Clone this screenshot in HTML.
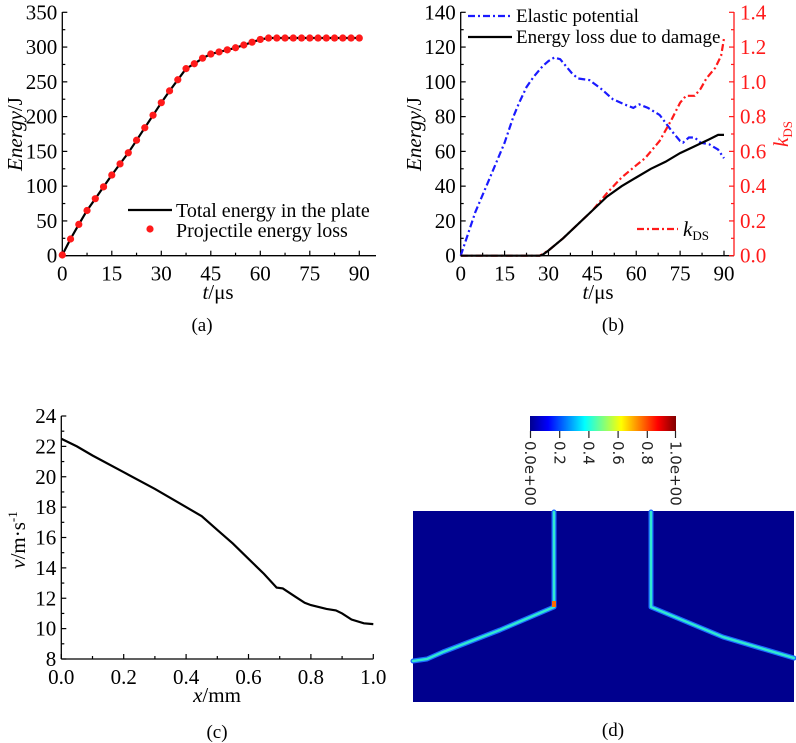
<!DOCTYPE html>
<html><head><meta charset="utf-8">
<style>
html,body{margin:0;padding:0;background:#fff;}
svg{display:block;font-family:"Liberation Serif",serif;}
</style></head>
<body>
<svg id="fig" width="796" height="743" viewBox="0 0 796 743" xmlns="http://www.w3.org/2000/svg">
<defs>
<linearGradient id="jet" x1="0" x2="1" y1="0" y2="0">
<stop offset="0" stop-color="#00008f"/><stop offset="0.125" stop-color="#0000ff"/><stop offset="0.375" stop-color="#00ffff"/><stop offset="0.5" stop-color="#7fff7f"/><stop offset="0.625" stop-color="#ffff00"/><stop offset="0.875" stop-color="#ff0000"/><stop offset="1" stop-color="#800000"/>
</linearGradient>
</defs>
<g id="pa"></g>
<g id="pb"></g>
<g id="pc"></g>
<g id="pd">
  <rect x="530" y="416" width="146" height="15" fill="url(#jet)"/>
  <g stroke="#222" stroke-width="1.2">
    <line x1="530.5" y1="431" x2="530.5" y2="438"/><line x1="559.7" y1="431" x2="559.7" y2="438"/><line x1="588.9" y1="431" x2="588.9" y2="438"/><line x1="618.1" y1="431" x2="618.1" y2="438"/><line x1="647.3" y1="431" x2="647.3" y2="438"/><line x1="675.5" y1="431" x2="675.5" y2="438"/>
  </g>
  <g font-family="DejaVu Sans, sans-serif" font-size="15" fill="#222">
    <text transform="translate(525,441) rotate(90)">0.0e+00</text>
    <text transform="translate(554.5,441) rotate(90)">0.2</text>
    <text transform="translate(583.7,441) rotate(90)">0.4</text>
    <text transform="translate(612.9,441) rotate(90)">0.6</text>
    <text transform="translate(642.1,441) rotate(90)">0.8</text>
    <text transform="translate(670.5,441) rotate(90)">1.0e+00</text>
  </g>
  <rect x="413" y="511" width="381" height="191" fill="#00008e"/>
  <g fill="none" stroke-linejoin="round" stroke-linecap="round">
    <path d="M554,512 L554,607 L500,630 L443,652 L427,659 L413,661 M651,512 L651,607 L723,637 L794,658" stroke="#1a6bff" stroke-width="5"/>
    <path d="M554,512 L554,607 L500,630 L443,652 L427,659 L413,661 M651,512 L651,607 L723,637 L794,658" stroke="#30e8d0" stroke-width="2.5"/>
    <rect x="552" y="601" width="4" height="6" fill="#ff6a00" stroke="none"/>
  </g>
  <text x="613" y="736" font-size="19" text-anchor="middle">(d)</text>
</g>
</svg>
<script>
// Panel (a) data
const aTime = [0,2.5,5,7.5,10,12.5,15,17.5,20,22.5,25,27.5,30,32.5,35,37.5,40,42.5,45,47.5,50,52.5,55,57.5,60,62.5,65,67.5,70,72.5,75,77.5,80,82.5,85,87.5,90];
const aEnergy = [1,24,45,65,82,99,116,132,148,166,184,202,220,237,253,269,276,284,290,293,296,299,303,307,311,313,313,313,313,313,313,313,313,313,313,313,313];
const aXTicks = ["0","15","30","45","60","75","90"];
const aYTicks = ["0","50","100","150","200","250","300","350"];
// Panel (b) data
const bElasticT = [0,5,10,15,18,20,22.5,25,28,30,32,34,36,38,40,44,48,52,56,59,61,64,68,72,75,76,78,80,82,85,88,90];
const bElasticE = [0,25,45,65,80,88,97,103,109,112,114,113,109,105,102,101,96,90,87,85,87,85,81,72,66,65,68,68,65,64,61,56];
const bDamageT = [0,27,28,30,35,40,45,50,55,60,65,70,75,80,85,88,90];
const bDamageE = [0,0,0.5,3,10,18,26,34,40,45,50,54,59,63,67,69.5,69.5];
const bKT = [0,27,28,30,35,40,45,50,55,60,63,68,72,75,77,80,82,84,87,89,90];
const bK = [0,0,0.01,0.03,0.1,0.18,0.26,0.36,0.45,0.52,0.56,0.66,0.78,0.88,0.92,0.92,0.96,1.02,1.08,1.15,1.25];
const bXTicks = ["0","15","30","45","60","75","90"];
const bYTicks = ["0","20","40","60","80","100","120","140"];
const bY2Ticks = ["0.0","0.2","0.4","0.6","0.8","1.0","1.2","1.4"];
// Panel (c) data
const cX = [0,0.05,0.1,0.2,0.3,0.4,0.45,0.5,0.55,0.6,0.65,0.69,0.71,0.75,0.78,0.8,0.85,0.88,0.9,0.93,0.97,1.0];
const cV = [22.5,22,21.4,20.3,19.2,18,17.4,16.5,15.6,14.6,13.6,12.7,12.65,12.1,11.7,11.55,11.3,11.2,11.0,10.6,10.35,10.3];
const cXTicks = ["0.0","0.2","0.4","0.6","0.8","1.0"];
const cYTicks = ["8","10","12","14","16","18","20","22","24"];

const NS="http://www.w3.org/2000/svg";
const FS=21;
const LFS=19;
function mk(parent,tag,attrs,txt){const e=document.createElementNS(NS,tag);for(const k in attrs)e.setAttribute(k,attrs[k]);if(txt!==undefined)e.textContent=txt;parent.appendChild(e);return e;}
function lin(d0,d1,r0,r1){return v=>r0+(v-d0)*(r1-r0)/(d1-d0);}
function pathOf(xs,ys,sx,sy){return xs.map((x,i)=>(i?'L':'M')+sx(x).toFixed(1)+','+sy(ys[i]).toFixed(1)).join(' ');}

function axes(g,o){
  const ax=mk(g,'g',{});
  
  
  mk(ax,'line',{x1:o.L,y1:o.B,x2:o.R,y2:o.B,stroke:'#000','stroke-width':1.3});
  mk(ax,'line',{x1:o.L,y1:o.B,x2:o.L,y2:o.T,stroke:'#000','stroke-width':1.3});
  const nx=o.xt.length-1;
  for(let i=0;i<=nx*2;i++){
    const v=o.xmin+(o.xmax-o.xmin)*i/(nx*2);const x=o.sx(v);
    mk(ax,'line',{x1:x,y1:o.B,x2:x,y2:o.B-(i%2?3:5),stroke:'#000','stroke-width':1.2});
  }
  o.xt.forEach((t,i)=>{const x=o.sx(o.xmin+(o.xmax-o.xmin)*i/nx);
    const e=mk(ax,'text',{x:x,y:o.B+25,'font-size':FS,'text-anchor':'middle'},t);
    
    });
  const ny=o.yt.length-1;
  for(let i=0;i<=ny*2;i++){
    const v=o.ymin+(o.ymax-o.ymin)*i/(ny*2);const y=o.sy(v);
    mk(ax,'line',{x1:o.L,y1:y,x2:o.L+(i%2?3:5),y2:y,stroke:'#000','stroke-width':1.2});
  }
  o.yt.forEach((t,i)=>{const y=o.sy(o.ymin+(o.ymax-o.ymin)*i/ny);
    const e=mk(ax,'text',{x:o.L-5,y:y+7,'font-size':FS,'text-anchor':'end'},t);
    
    });
}

// ---- Panel a
(function(){
  const g=document.getElementById('pa');
  const sx=lin(0,90,62.3,359.3), sy=lin(0,350,255.7,12.3);
  axes(g,{L:62.3,R:376,B:255.7,T:12,sx,sy,xt:aXTicks,yt:aYTicks,xmin:0,xmax:90,ymin:0,ymax:350});
  const ln=mk(g,'path',{d:pathOf(aTime,aEnergy,sx,sy),fill:'none',stroke:'#000','stroke-width':2.2});
  
  
  aTime.forEach((t,i)=>{const c=mk(g,'circle',{cx:sx(t),cy:sy(aEnergy[i]),r:3.6,fill:'#ff1a1a'});
    
    });
  const lg=mk(g,'g',{});
  
  
  mk(lg,'line',{x1:128,y1:210,x2:172,y2:210,stroke:'#000','stroke-width':2.2});
  mk(lg,'text',{x:176,y:217,'font-size':20},'Total energy in the plate');
  mk(lg,'circle',{cx:150,cy:229,r:3.6,fill:'#ff1a1a'});
  mk(lg,'text',{x:176,y:237,'font-size':20},'Projectile energy loss');
  const yt=mk(g,'text',{transform:'translate(22,134) rotate(-90)','font-size':FS,'text-anchor':'middle'});
  
  
  yt.innerHTML='<tspan font-style="italic">Energy</tspan>/J';
  const xt=mk(g,'text',{x:218,y:299,'font-size':FS,'text-anchor':'middle'});
  
  
  xt.innerHTML='<tspan font-style="italic">t</tspan>/μs';
  const cap=mk(g,'text',{x:202,y:331,'font-size':19,'text-anchor':'middle'},'(a)');
  
  
})();

// ---- Panel b
(function(){
  const g=document.getElementById('pb');
  const sx=lin(0,90,460.7,724), sy=lin(0,140,255.7,12.3), sy2=lin(0,1.4,255.7,12.3);
  axes(g,{L:460.7,R:734,B:255.7,T:12,sx,sy,xt:bXTicks,yt:bYTicks,xmin:0,xmax:90,ymin:0,ymax:140});
  const ra=mk(g,'g',{});
  
  
  mk(ra,'line',{x1:734,y1:255.7,x2:734,y2:12,stroke:'#ff1a1a','stroke-width':1.3});
  for(let i=0;i<=14;i++){const y=sy2(i*0.1);mk(ra,'line',{x1:734,y1:y,x2:734-(i%2?3:5),y2:y,stroke:'#ff1a1a','stroke-width':1.2});}
  bY2Ticks.forEach((t,i)=>{mk(ra,'text',{x:740,y:sy2(i*0.2)+7,'font-size':FS,fill:'#ff1a1a'},t);});
  const t2=mk(ra,'text',{transform:'translate(788,134) rotate(-90)','font-size':FS,fill:'#ff1a1a','text-anchor':'middle'});
  t2.innerHTML='<tspan font-style="italic">k</tspan><tspan font-size="13" dy="4">DS</tspan>';
  const e=mk(g,'path',{d:pathOf(bElasticT,bElasticE,sx,sy),fill:'none',stroke:'#1a1aff','stroke-width':2.2,'stroke-dasharray':'7,3,2,3'});
  
  
  const k=mk(g,'path',{d:pathOf(bKT,bK,sx,sy2),fill:'none',stroke:'#ff1a1a','stroke-width':2.2,'stroke-dasharray':'7,3,2,3'});
  
  
  const d=mk(g,'path',{d:pathOf(bDamageT,bDamageE,sx,sy),fill:'none',stroke:'#000','stroke-width':2.2});
  
  
  const lg=mk(g,'g',{});
  
  
  mk(lg,'line',{x1:468,y1:16,x2:512,y2:16,stroke:'#1a1aff','stroke-width':2.2,'stroke-dasharray':'7,3,2,3'});
  mk(lg,'text',{x:516,y:22,'font-size':LFS},'Elastic potential');
  mk(lg,'line',{x1:468,y1:37,x2:512,y2:37,stroke:'#000','stroke-width':2.2});
  mk(lg,'text',{x:516,y:43,'font-size':LFS},'Energy loss due to damage');
  mk(lg,'line',{x1:637,y1:229,x2:678,y2:229,stroke:'#ff1a1a','stroke-width':2.2,'stroke-dasharray':'7,3,2,3'});
  const kt=mk(lg,'text',{x:683,y:236,'font-size':FS});
  kt.innerHTML='<tspan font-style="italic">k</tspan><tspan font-size="13" dy="4">DS</tspan>';
  const yt=mk(g,'text',{transform:'translate(421,134) rotate(-90)','font-size':FS,'text-anchor':'middle'});
  
  
  yt.innerHTML='<tspan font-style="italic">Energy</tspan>/J';
  const xt=mk(g,'text',{x:598,y:299,'font-size':FS,'text-anchor':'middle'});
  
  
  xt.innerHTML='<tspan font-style="italic">t</tspan>/μs';
  const cap=mk(g,'text',{x:613,y:331,'font-size':19,'text-anchor':'middle'},'(b)');
  
  
})();

// ---- Panel c
(function(){
  const g=document.getElementById('pc');
  const sx=lin(0,1,61.3,373.3), sy=lin(8,24,659,416);
  axes(g,{L:61.3,R:373.3,B:659,T:416,sx,sy,xt:cXTicks,yt:cYTicks,xmin:0,xmax:1,ymin:8,ymax:24});
  const l=mk(g,'path',{d:pathOf(cX,cV,sx,sy),fill:'none',stroke:'#000','stroke-width':2.2});
  
  
  const yt=mk(g,'text',{transform:'translate(25,540) rotate(-90)','font-size':FS,'text-anchor':'middle'});
  
  
  yt.innerHTML='<tspan font-style="italic">v</tspan>/m·s<tspan font-size="13" dy="-8">-1</tspan>';
  const xt=mk(g,'text',{x:217,y:702,'font-size':FS,'text-anchor':'middle'});
  
  
  xt.innerHTML='<tspan font-style="italic">x</tspan>/mm';
  const cap=mk(g,'text',{x:217,y:738,'font-size':19,'text-anchor':'middle'},'(c)');
  
  
})();
</script>
</body></html>
